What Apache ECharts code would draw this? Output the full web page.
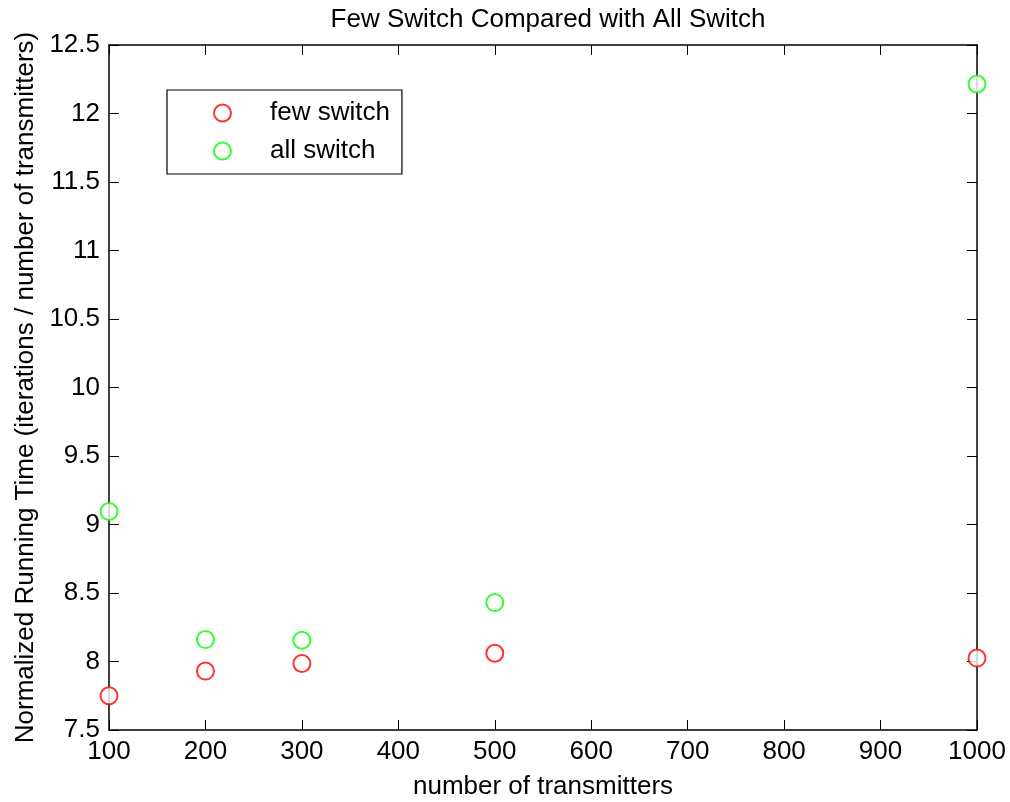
<!DOCTYPE html>
<html>
<head>
<meta charset="utf-8">
<script src="https://cdn.jsdelivr.net/npm/echarts@6/dist/echarts.min.js"></script>
<style>
    html, body { margin: 0; padding: 0; background: #fff; }
    #chart { width: 1010px; height: 802px; }
</style>
</head>
<body>
<div id="chart"></div>
<script>
// transmitters on the x axis
const transmitters = [100, 200, 300, 500, 1000];

// normalized running time
const fewSwitch = [7.75, 7.93, 7.985, 8.06, 8.025];
const allSwitch = [9.095, 8.16, 8.155, 8.43, 12.215];

const xTicks = { min: 100, max: 1000, interval: 100 };
const yTicks = { min: 7.5, max: 12.5, interval: 0.5 };

const fontName = "Liberation Sans";
const fontSize = 26;
const colorAxis = "#000";

const chart = echarts.init(document.getElementById("chart"), null, { renderer: "canvas" });

function pairs(xs, ys) {
    return xs.map((x, i) => [x, ys[i]]);
}

const tickStyle = { inside: true, length: 10, lineStyle: { color: colorAxis, width: 1 } };
const lineStyle = { show: true, onZero: false, lineStyle: { color: colorAxis, width: 1.5 } };

chart.setOption({
    animation: false,
    backgroundColor: "#fff",
    textStyle: { fontFamily: fontName, color: "#000" },
    title: {
        text: "Few Switch Compared with All Switch",
        left: 543,
        textAlign: "center",
        top: 2,
        textStyle: { fontFamily: fontName, fontSize: fontSize, fontWeight: "normal", color: "#000" }
    },
    legend: {
        orient: "vertical",
        left: 167,
        top: 90,
        itemWidth: 17,
        itemHeight: 17,
        itemGap: 12,
        padding: [10, 12, 10, 46],
        borderColor: "#000",
        borderWidth: 1.2,
        borderRadius: 0,
        backgroundColor: "#fff",
        textStyle: { fontFamily: fontName, fontSize: fontSize, color: "#000", padding: [0, 0, 0, 34] },
        data: [
            { name: "few switch", icon: "emptyCircle" },
            { name: "all switch", icon: "emptyCircle" }
        ]
    },
    grid: { left: 109, right: 33, top: 45, bottom: 72, outerBoundsMode: "none", containLabel: false },
    xAxis: [
        {
            type: "value",
            min: xTicks.min, max: xTicks.max, interval: xTicks.interval,
            name: "number of transmitters",
            nameLocation: "middle",
            nameGap: 44,
            nameTextStyle: { fontFamily: fontName, fontSize: fontSize, color: "#000" },
            axisLine: lineStyle,
            axisTick: tickStyle,
            axisLabel: { fontFamily: fontName, fontSize: fontSize, color: "#000", margin: 9, formatter: v => String(v) },
            splitLine: { show: false }
        },
        {
            type: "value", position: "top",
            min: xTicks.min, max: xTicks.max, interval: xTicks.interval,
            axisLine: lineStyle,
            axisTick: tickStyle,
            axisLabel: { show: false },
            splitLine: { show: false }
        }
    ],
    yAxis: [
        {
            type: "value",
            min: yTicks.min, max: yTicks.max, interval: yTicks.interval,
            name: "Normalized Running Time (iterations / number of transmitters)",
            nameLocation: "middle",
            nameGap: 68,
            nameTextStyle: { fontFamily: fontName, fontSize: fontSize, color: "#000" },
            axisLine: lineStyle,
            axisTick: tickStyle,
            axisLabel: { fontFamily: fontName, fontSize: fontSize, color: "#000", margin: 9, formatter: v => String(v) },
            splitLine: { show: false }
        },
        {
            type: "value", position: "right",
            min: yTicks.min, max: yTicks.max, interval: yTicks.interval,
            axisLine: lineStyle,
            axisTick: tickStyle,
            axisLabel: { show: false },
            splitLine: { show: false }
        }
    ],
    series: [
        {
            name: "few switch",
            type: "scatter",
            symbol: "emptyCircle",
            symbolSize: 17,
            itemStyle: { color: "#ff0000", borderColor: "#ff0000", borderWidth: 1.5 },
            data: pairs(transmitters, fewSwitch)
        },
        {
            name: "all switch",
            type: "scatter",
            symbol: "emptyCircle",
            symbolSize: 17,
            itemStyle: { color: "#00ff00", borderColor: "#00ff00", borderWidth: 1.5 },
            data: pairs(transmitters, allSwitch)
        }
    ]
});
</script>
</body>
</html>
